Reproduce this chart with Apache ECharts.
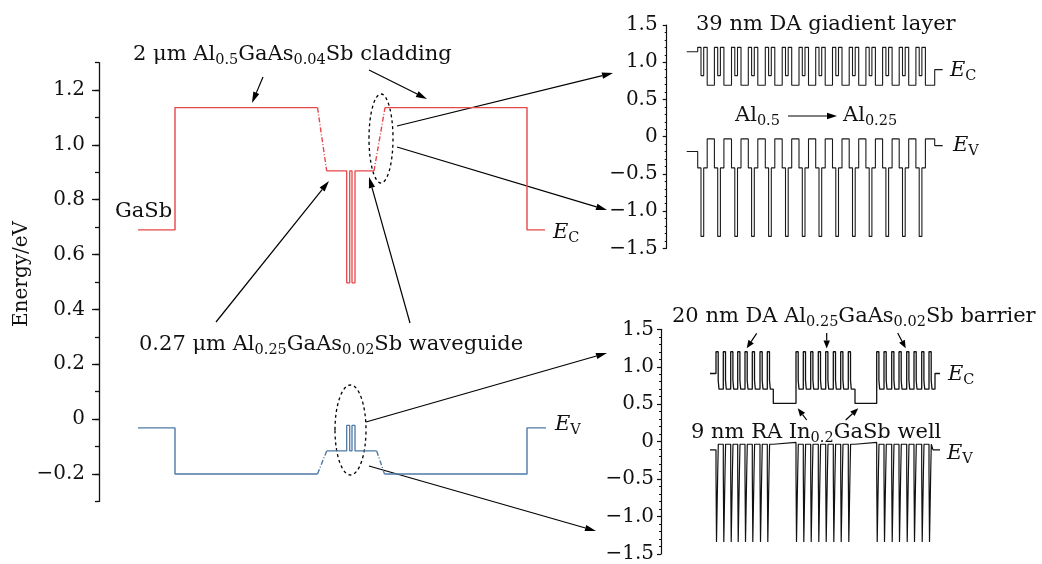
<!DOCTYPE html>
<html>
<head>
<meta charset="utf-8">
<script src="https://cdn.jsdelivr.net/npm/echarts@6/dist/echarts.min.js"></script>
<style>
html, body { margin: 0; padding: 0; background: #fff; }
#chart { width: 1042px; height: 564px; }
</style>
</head>
<body>
<div id="chart"></div>
<script>
// ---- main band diagram (x = position, a.u.; y = energy, eV) ----
var ecClad1 = [[39, 0.69], [76, 0.69], [76, 1.136], [218.5, 1.136]];
var ecGrade1 = [[218.5, 1.136], [227.7, 0.905]];
var ecCore = [[227.7, 0.905], [247.7, 0.905], [247.7, 0.497], [250.7, 0.497], [250.7, 0.905],
    [253, 0.905], [253, 0.497], [256, 0.497], [256, 0.905], [275, 0.905]];
var ecGrade2 = [[275, 0.905], [286, 1.136]];
var ecClad2 = [[286, 1.136], [428, 1.136], [428, 0.69], [446, 0.69]];

var evClad1 = [[39, -0.032], [76, -0.032], [76, -0.2], [218.5, -0.2]];
var evGrade1 = [[218.5, -0.2], [227.7, -0.116]];
var evCore = [[227.7, -0.116], [247.7, -0.116], [247.7, -0.023], [250.7, -0.023], [250.7, -0.116],
    [253, -0.116], [253, -0.023], [256, -0.023], [256, -0.116], [277.7, -0.116]];
var evGrade2 = [[277.7, -0.116], [285.5, -0.2]];
var evClad2 = [[285.5, -0.2], [428, -0.2], [428, -0.032], [447, -0.032]];

// ---- inset 1: 39 nm DA gradient layer ----
var gradStarts = [31, 47.7, 64.8, 81.6, 98.6, 115.5, 132.3, 149, 165.8, 182.5, 199.2, 215.9, 232.5, 249.2];
var gradOffsets = [0, 3.3, 6, 9.5];
var gradEc = [1.2, 0.82, 1.2, 0.69];
var gradEv = [-0.42, -1.34, -0.42, -0.03];
var gradEdges = [20, 268, 276];
var gradEcOuter = [1.14, 0.9];
var gradEvOuter = [-0.2, -0.12];

// ---- inset 2: DA barriers + RA wells ----
var barStarts = [
    [55, 62.3, 69.7, 76.7, 84, 91.3, 99, 106.3],
    [135, 142.3, 149.7, 157.3, 164.7, 172.3, 179.7, 187.3],
    [215.7, 223, 230.7, 238, 245.7, 253, 260.7, 268]
];
var barEcOffsets = [0, 2.2, 3.0];
var barEc = [1.2, 0.82, 0.70];
var barEvOffsets = [0, 0.5, 1.7, 2.3];
var barEv = [-0.42, -1.34, -0.42, -0.035];
var wellStarts = [112.3, 194];
var wellEc = 0.51;
var wellEv = -0.01;
var barEdges = [49, 274, 279];
var barEcOuter = [0.91, 0.91];
var barEvOuter = [-0.11, -0.11];
var barEvEnd = 272;

var yTicksMain = [-0.2, 1.2, 0.2];
var yTicksInset = [-1.5, 1.5, 0.5];

var FONT = 'DejaVu Serif';
var INK = '#111';
var RED = '#e8474a';
var BLUE = '#4f79a6';

function stepPath(events, xEnd) {
    var pts = [];
    for (var i = 0; i < events.length; i++) {
        if (i > 0) pts.push([events[i][0], events[i - 1][1]]);
        pts.push(events[i]);
    }
    pts.push([xEnd, events[events.length - 1][1]]);
    return pts;
}

function periodEvents(starts, offsets, levels) {
    var ev = [];
    starts.forEach(function (s) {
        offsets.forEach(function (o, j) { ev.push([s + o, levels[j]]); });
    });
    return ev;
}

var gradEcPath = stepPath([[gradEdges[0], gradEcOuter[0]]]
    .concat(periodEvents(gradStarts, gradOffsets, gradEc))
    .concat([[gradEdges[1], gradEcOuter[1]]]), gradEdges[2]);
var gradEvPath = stepPath([[gradEdges[0], gradEvOuter[0]]]
    .concat(periodEvents(gradStarts, gradOffsets, gradEv))
    .concat([[gradEdges[1], gradEvOuter[1]]]), gradEdges[2]);

var barEcPath = stepPath([[barEdges[0], barEcOuter[0]]]
    .concat(periodEvents(barStarts[0], barEcOffsets, barEc))
    .concat([[wellStarts[0], wellEc]])
    .concat(periodEvents(barStarts[1], barEcOffsets, barEc))
    .concat([[wellStarts[1], wellEc]])
    .concat(periodEvents(barStarts[2], barEcOffsets, barEc))
    .concat([[barEdges[1], barEcOuter[1]]]), barEdges[2]);
var barEvPath = stepPath([[barEdges[0], barEvOuter[0]]]
    .concat(periodEvents(barStarts[0], barEvOffsets, barEv))
    .concat([[wellStarts[0], wellEv]])
    .concat(periodEvents(barStarts[1], barEvOffsets, barEv))
    .concat([[wellStarts[1], wellEv]])
    .concat(periodEvents(barStarts[2], barEvOffsets, barEv))
    .concat([[barEvEnd, barEvOuter[1]]]), barEdges[2]);

function fmt(v) {
    if (Math.abs(v) < 1e-9) return '0';
    var s = Math.abs(v).toFixed(1);
    return v < 0 ? '\u2212' + s : s;
}

function lineSeries(data, xi, color, width, dash) {
    return {
        type: 'line', xAxisIndex: xi, yAxisIndex: xi, data: data,
        showSymbol: false, symbol: 'none', silent: true,
        lineStyle: { color: color, width: width, type: dash || 'solid' }
    };
}

var rich = {
    n: { fontFamily: FONT, fontSize: 21, lineHeight: 25, fill: INK },
    s: { fontFamily: FONT, fontSize: 14.5, lineHeight: 14, verticalAlign: 'bottom', fill: INK },
    i: { fontFamily: FONT, fontSize: 21, lineHeight: 25, fontStyle: 'italic', fill: INK }
};

function label(x, y, text) {
    return { type: 'text', x: x, y: y, silent: true,
        style: { text: text, rich: rich, align: 'left', verticalAlign: 'middle' } };
}

function arrow(x1, y1, x2, y2, len) {
    var a = Math.atan2(y2 - y1, x2 - x1), L = len || 11, W = 3.2;
    var bx = x2 - L * Math.cos(a), by = y2 - L * Math.sin(a);
    return [
        { type: 'line', silent: true, shape: { x1: x1, y1: y1, x2: bx, y2: by },
          style: { stroke: '#000', lineWidth: 1.2 } },
        { type: 'polygon', silent: true,
          shape: { points: [[x2, y2], [bx + W * Math.sin(a), by - W * Math.cos(a)], [bx - W * Math.sin(a), by + W * Math.cos(a)]] },
          style: { fill: '#000' } }
    ];
}

function ellipse(cx, cy, rx, ry) {
    return { type: 'ellipse', silent: true, shape: { cx: cx, cy: cy, rx: rx, ry: ry },
        style: { fill: 'none', stroke: '#000', lineWidth: 1.3, lineDash: [3, 3] } };
}

var graphics = [
    { type: 'text', x: 22, y: 274, rotation: Math.PI / 2, silent: true,
      style: { text: 'Energy/eV', fontFamily: FONT, fontSize: 20, fill: INK, align: 'center', verticalAlign: 'middle' } },
    label(133, 55, '{n|2 μm Al}{s|0.5}{n|GaAs}{s|0.04}{n|Sb cladding}'),
    label(115, 212, '{n|GaSb}'),
    label(139, 345, '{n|0.27 μm Al}{s|0.25}{n|GaAs}{s|0.02}{n|Sb waveguide}'),
    label(553, 233, '{i|E}{s|C}'),
    label(555, 425, '{i|E}{s|V}'),
    label(696, 25, '{n|39 nm DA giadient layer}'),
    label(950, 71, '{i|E}{s|C}'),
    label(735, 116, '{n|Al}{s|0.5}'),
    label(843, 116, '{n|Al}{s|0.25}'),
    label(953, 146, '{i|E}{s|V}'),
    label(672, 317, '{n|20 nm DA Al}{s|0.25}{n|GaAs}{s|0.02}{n|Sb barrier}'),
    label(948, 375, '{i|E}{s|C}'),
    label(691, 433, '{n|9 nm RA In}{s|0.2}{n|GaSb well}'),
    label(947, 454, '{i|E}{s|V}'),
    ellipse(381, 138.5, 12, 44.5),
    ellipse(350.5, 430, 15.5, 45)
].concat(
    arrow(263, 77, 252, 103),
    arrow(369, 70, 427, 99),
    arrow(397, 126, 613, 73),
    arrow(397, 147, 607, 210),
    arrow(216, 322, 329, 181),
    arrow(410, 323, 369, 177),
    arrow(366, 422, 607, 353),
    arrow(369, 466, 596, 531),
    arrow(788, 116, 837, 116, 10),
    arrow(756.7, 333.3, 746.7, 348.3, 8),
    arrow(826.7, 333, 826.7, 348.5, 8),
    arrow(897.7, 333, 905.7, 348.3, 8),
    arrow(806.7, 420, 797.7, 408.3, 8),
    arrow(845.7, 420, 858.3, 408.3, 8)
);

var chart = echarts.init(document.getElementById('chart'));

var axisFont = { fontFamily: FONT, fontSize: 20, color: INK };

var option = {
    animation: false,
    backgroundColor: '#fff',
    grid: [
        { left: 99, top: 62.6, width: 500, height: 438.8 },
        { left: 99, top: 90, width: 500, height: 384 },
        { left: 666.7, top: 25, width: 300, height: 223.3 },
        { left: 661, top: 329.3, width: 300, height: 229.2 }
    ],
    xAxis: [
        { type: 'value', gridIndex: 0, min: 0, max: 500, show: false },
        { type: 'value', gridIndex: 1, min: 0, max: 500, show: false },
        { type: 'value', gridIndex: 2, min: 0, max: 300, show: false },
        { type: 'value', gridIndex: 3, min: 0, max: 300, show: false }
    ],
    yAxis: [
        {
            type: 'value', gridIndex: 0, min: -0.3, max: 1.3, interval: 0.1,
            axisLine: { show: true, lineStyle: { color: INK, width: 1.3 } },
            axisTick: { show: true, length: 4, lineStyle: { color: INK, width: 1.3 } },
            axisLabel: { show: false }, splitLine: { show: false }
        },
        {
            type: 'value', gridIndex: 1, min: yTicksMain[0], max: yTicksMain[1], interval: yTicksMain[2],
            axisLine: { show: false },
            axisTick: { show: true, length: 7, lineStyle: { color: INK, width: 1.3 } },
            axisLabel: Object.assign({ margin: 14, formatter: fmt }, axisFont),
            splitLine: { show: false }
        },
        {
            type: 'value', gridIndex: 2, min: yTicksInset[0], max: yTicksInset[1], interval: yTicksInset[2],
            axisLine: { show: true, lineStyle: { color: INK, width: 1.2 } },
            axisTick: { show: true, length: 4, lineStyle: { color: INK, width: 1.2 } },
            minorTick: { show: true, splitNumber: 5, length: 2, lineStyle: { color: INK, width: 1 } },
            axisLabel: Object.assign({ margin: 9, formatter: fmt }, axisFont),
            splitLine: { show: false }
        },
        {
            type: 'value', gridIndex: 3, min: yTicksInset[0], max: yTicksInset[1], interval: yTicksInset[2],
            axisLine: { show: true, lineStyle: { color: INK, width: 1.2 } },
            axisTick: { show: true, length: 4, lineStyle: { color: INK, width: 1.2 } },
            minorTick: { show: true, splitNumber: 5, length: 2, lineStyle: { color: INK, width: 1 } },
            axisLabel: Object.assign({ margin: 7, formatter: fmt }, axisFont),
            splitLine: { show: false }
        }
    ],
    series: [
        lineSeries(ecClad1, 0, RED, 1.4),
        lineSeries(ecGrade1, 0, RED, 1.4, [5, 2, 1, 2]),
        lineSeries(ecCore, 0, RED, 1.3),
        lineSeries(ecGrade2, 0, RED, 1.4, [5, 2, 1, 2]),
        lineSeries(ecClad2, 0, RED, 1.4),
        lineSeries(evClad1, 0, BLUE, 1.4),
        lineSeries(evGrade1, 0, BLUE, 1.4, [5, 2, 1, 2]),
        lineSeries(evCore, 0, BLUE, 1.3),
        lineSeries(evGrade2, 0, BLUE, 1.4, [5, 2, 1, 2]),
        lineSeries(evClad2, 0, BLUE, 1.4),
        lineSeries(gradEcPath, 2, '#1a1a1a', 1.1),
        lineSeries(gradEvPath, 2, '#1a1a1a', 1.1),
        lineSeries(barEcPath, 3, '#111', 1.3),
        lineSeries(barEvPath, 3, '#111', 1.2)
    ],
    graphic: graphics
};

chart.setOption(option);
</script>
</body>
</html>
